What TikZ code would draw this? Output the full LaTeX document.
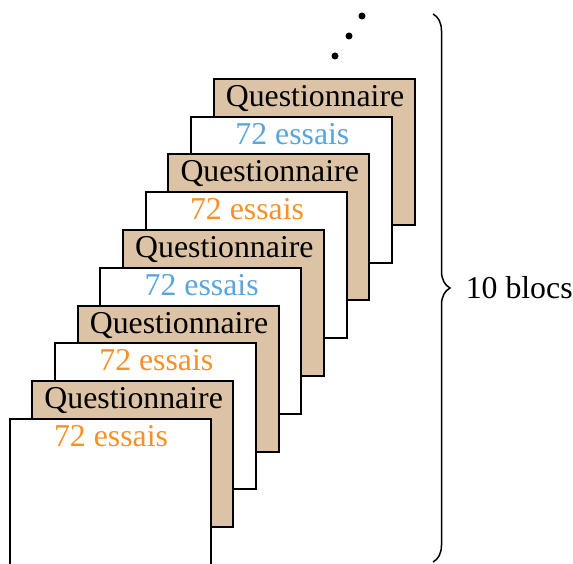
\documentclass[tikz,border=0pt]{standalone}
\usepackage{fontspec}
\setmainfont{Liberation Serif}
\usetikzlibrary{decorations.pathreplacing}
\definecolor{tanfill}{RGB}{220,195,165}
\definecolor{essaiblue}{RGB}{90,165,220}
\definecolor{essaiorange}{RGB}{245,145,40}

\begin{document}
\begin{tikzpicture}[x=1pt,y=1pt,
  card/.style={draw=black,line width=2pt,minimum width=201pt,minimum height=146pt,inner sep=0pt},
  cardtext/.style={anchor=base,font=\fontsize{31.8}{36}\selectfont,inner sep=0pt}]
\useasboundingbox (0,0) rectangle (573,563);

% Stacked blocks, back to front
\foreach \i/\fillc/\txt/\txtc in {10/tanfill/Questionnaire/black,9/white/72 essais/essaiblue,
  8/tanfill/Questionnaire/black,7/white/72 essais/essaiorange,6/tanfill/Questionnaire/black,
  5/white/72 essais/essaiblue,4/tanfill/Questionnaire/black,3/white/72 essais/essaiorange,
  2/tanfill/Questionnaire/black,1/white/72 essais/essaiorange}
{
\node[card,fill=\fillc] (card\i) at ({110+22.67*(\i-1)},{71+37.8*(\i-1)}) {};
\node[cardtext,text=\txtc] (label\i) at ([yshift=-28.5pt,xshift=1pt]card\i.north) {\txt};
}

% Continuation dots
\foreach \d/\x/\y in {1/335/507,2/349/527,3/362/547}
{
\node[circle,fill=black,inner sep=0pt,minimum size=7pt] (dot\d) at (\x,\y) {};
}

% Brace over all blocks
\coordinate (bracetop) at (433,549);
\coordinate (bracebot) at (433,1);
\draw[decorate,decoration={brace,amplitude=17pt},line width=1.5pt] (bracetop) -- (bracebot)
node[midway,anchor=west,xshift=32pt,inner sep=0pt,font=\fontsize{31.8}{36}\selectfont] (blocslabel) {10 blocs};

\end{tikzpicture}
\end{document}
